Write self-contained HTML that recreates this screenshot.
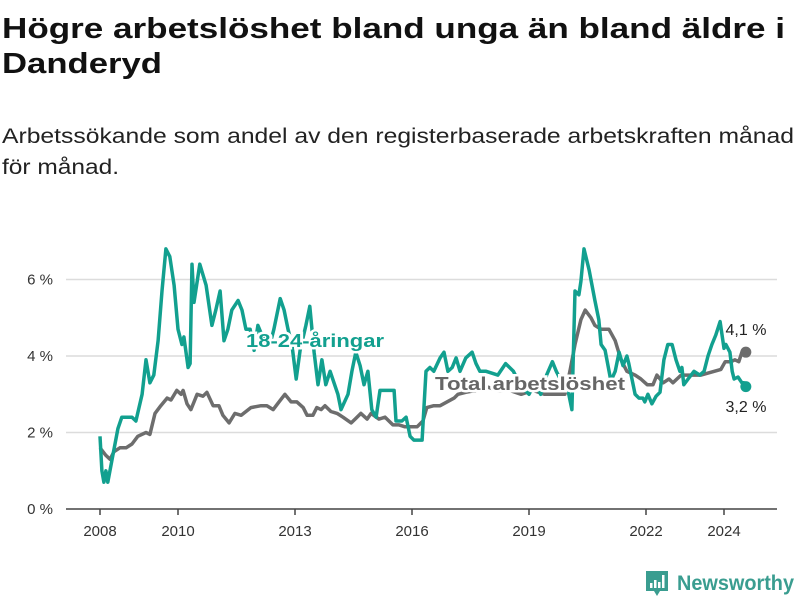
<!DOCTYPE html>
<html><head><meta charset="utf-8"><style>
body{margin:0;background:#fff;width:800px;height:600px;overflow:hidden}
svg{display:block;font-family:"Liberation Sans",sans-serif}
</style></head><body>
<svg id="chart" width="800" height="600">
<text x="2" y="38" font-size="29" font-weight="bold" fill="#111" textLength="783" lengthAdjust="spacingAndGlyphs">Högre arbetslöshet bland unga än bland äldre i</text>
<text x="2" y="73" font-size="29" font-weight="bold" fill="#111" textLength="160" lengthAdjust="spacingAndGlyphs">Danderyd</text>
<text x="2" y="143" font-size="21" fill="#222" textLength="792" lengthAdjust="spacingAndGlyphs">Arbetssökande som andel av den registerbaserade arbetskraften månad</text>
<text x="2" y="174" font-size="21" fill="#222" textLength="117" lengthAdjust="spacingAndGlyphs">för månad.</text>
<g id="grid"></g>
<g id="axes"></g>
<g id="series"></g>
<g id="labels"></g>
<g>
<path d="M646 571 h22 v20 h-8 l-3 5 l-3 -5 h-8 z" fill="#3a9d90"/>
<rect x="650" y="583" width="2.5" height="5" fill="#fff"/><rect x="654" y="580" width="2.5" height="8" fill="#fff"/><rect x="658" y="582" width="2.5" height="6" fill="#fff"/><rect x="662" y="575" width="2.5" height="13" fill="#fff"/>
<text x="677" y="590" font-size="21" font-weight="bold" fill="#3a9d90" textLength="117" lengthAdjust="spacingAndGlyphs">Newsworthy</text>
</g>
</svg>
<script>
const yTicks=[0,2,4,6];
const xTicks=[2008,2010,2013,2016,2019,2022,2024];
const youthYears=[
2008.0,2008.05,2008.1,2008.15,2008.2,2008.31,2008.46,2008.56,2008.82,2008.92,
2009.08,2009.18,2009.28,2009.38,2009.49,2009.59,2009.69,2009.79,2009.9,2010.0,
2010.1,2010.15,2010.26,2010.31,2010.36,2010.41,2010.56,2010.72,2010.87,2010.97,
2011.08,2011.18,2011.28,2011.38,2011.54,2011.64,2011.74,2011.85,2011.95,2012.05,
2012.21,2012.36,2012.46,2012.62,2012.72,2012.82,2012.92,2013.03,2013.13,2013.28,
2013.38,2013.49,2013.59,2013.69,2013.79,2013.9,2014.0,2014.1,2014.18,2014.36,
2014.46,2014.56,2014.67,2014.77,2014.87,2014.97,2015.08,2015.18,2015.54,2015.59,
2015.74,2015.85,2015.95,2016.05,2016.26,2016.36,2016.46,2016.56,2016.72,2016.82,
2016.92,2017.03,2017.13,2017.23,2017.38,2017.54,2017.64,2017.74,2017.9,2018.2,
2018.4,2018.6,2018.8,2019.0,2019.15,2019.3,2019.45,2019.6,2019.7,2019.85,
2020.0,2020.1,2020.18,2020.28,2020.33,2020.41,2020.54,2020.69,2020.79,2020.85,
2020.95,2021.1,2021.21,2021.31,2021.41,2021.51,2021.56,2021.72,2021.82,2021.92,
2021.97,2022.05,2022.15,2022.26,2022.36,2022.46,2022.56,2022.67,2022.77,2022.87,
2022.92,2022.97,2023.08,2023.23,2023.38,2023.49,2023.59,2023.69,2023.79,2023.9,
2024.0,2024.05,2024.15,2024.21,2024.26,2024.36,2024.46,2024.51,2024.56];
const youthValues=[
1.9,1.0,0.7,1.0,0.7,1.3,2.1,2.4,2.4,2.3,
3.0,3.9,3.3,3.5,4.4,5.7,6.8,6.6,5.85,4.7,
4.3,4.5,3.7,3.8,6.4,5.4,6.4,5.85,4.8,5.2,
5.7,4.4,4.7,5.2,5.45,5.2,4.7,4.7,4.15,4.8,
4.4,4.3,4.7,5.5,5.2,4.7,4.3,3.4,4.15,4.8,
5.3,4.1,3.25,3.9,3.25,3.6,3.3,3.0,2.6,3.0,
3.6,4.1,3.75,3.25,3.6,2.6,2.4,3.1,3.1,2.3,
2.3,2.4,1.9,1.8,1.8,3.6,3.7,3.6,3.95,4.1,
3.6,3.7,3.95,3.6,3.95,4.1,3.8,3.6,3.6,3.5,
3.8,3.6,3.2,3.0,3.3,3.0,3.5,3.85,3.6,3.3,
3.1,2.6,5.7,5.6,5.95,6.8,6.25,5.45,4.95,4.3,
4.15,3.35,3.6,4.1,3.75,4.0,3.8,3.0,2.9,2.9,
2.8,3.0,2.75,2.95,3.05,3.9,4.3,4.3,3.9,3.6,
3.7,3.25,3.4,3.6,3.5,3.6,4.0,4.3,4.55,4.9,
4.2,4.3,4.1,3.6,3.4,3.45,3.3,3.3,3.2];
const totalYears=[2008.0,2008.15,2008.26,2008.36,2008.51,2008.67,2008.82,2008.97,2009.18,2009.28,2009.41,2009.56,2009.72,2009.82,2009.97,2010.08,2010.13,2010.23,2010.33,2010.49,2010.64,2010.74,2010.9,2011.05,2011.15,2011.31,2011.46,2011.62,2011.87,2012.13,2012.28,2012.44,2012.59,2012.74,2012.9,2013.05,2013.21,2013.31,2013.46,2013.56,2013.67,2013.77,2013.92,2014.08,2014.23,2014.44,2014.54,2014.69,2014.85,2014.95,2015.15,2015.31,2015.51,2015.67,2015.82,2015.97,2016.13,2016.28,2016.38,2016.56,2016.72,2017.08,2017.18,2017.38,2017.64,2017.9,2018.2,2018.5,2018.8,2019.1,2019.4,2019.67,2019.92,2020.05,2020.18,2020.33,2020.44,2020.59,2020.69,2020.85,2021.05,2021.21,2021.36,2021.51,2021.72,2021.87,2022.03,2022.18,2022.28,2022.44,2022.59,2022.69,2022.9,2023.05,2023.41,2023.92,2024.03,2024.18,2024.28,2024.38,2024.46,2024.56];
const totalValues=[1.6,1.4,1.3,1.5,1.6,1.6,1.7,1.9,2.0,1.95,2.5,2.7,2.9,2.85,3.1,3.0,3.1,2.75,2.6,3.0,2.95,3.05,2.7,2.7,2.45,2.25,2.5,2.45,2.65,2.7,2.7,2.6,2.8,3.0,2.8,2.8,2.65,2.45,2.45,2.65,2.6,2.7,2.55,2.5,2.4,2.25,2.35,2.5,2.35,2.5,2.35,2.4,2.2,2.2,2.15,2.15,2.15,2.3,2.65,2.7,2.7,2.9,3.0,3.05,3.1,3.2,3.1,3.1,3.0,3.1,3.0,3.0,3.0,3.6,4.3,4.95,5.2,5.0,4.8,4.7,4.7,4.4,3.9,3.6,3.5,3.4,3.25,3.25,3.5,3.3,3.4,3.3,3.5,3.5,3.5,3.65,3.85,3.85,3.9,3.85,4.1,4.1];
const NS='http://www.w3.org/2000/svg';
const x=yr=>100+(yr-2008)*39;
const y=v=>509-v*38.25;
function mk(tag,attrs,parent){const e=document.createElementNS(NS,tag);for(const k in attrs)e.setAttribute(k,attrs[k]);parent.appendChild(e);return e;}
const grid=document.getElementById('grid'),axes=document.getElementById('axes'),series=document.getElementById('series'),labels=document.getElementById('labels');
yTicks.forEach(t=>{
  if(t>0){const l=mk('line',{x1:66,x2:777,y1:y(t),y2:y(t),stroke:'#dcdcdc','stroke-width':1.5},grid);
  
  }
  const tx=mk('text',{x:53,y:y(t)+5,'font-size':15,'text-anchor':'end',fill:'#333'},axes);
  tx.textContent=t+' %';
  
  
});
const base=mk('line',{x1:66,x2:777,y1:y(0),y2:y(0),stroke:'#444','stroke-width':1.5},axes);


xTicks.forEach(t=>{
  mk('line',{x1:x(t),x2:x(t),y1:y(0),y2:y(0)+6,stroke:'#444','stroke-width':1.5},axes);
  const tx=mk('text',{x:x(t),y:536,'font-size':15,'text-anchor':'middle',fill:'#333'},axes);
  tx.textContent=t;
  
  
});
function line(xs,vs,color,name){
  const n=Math.min(xs.length,vs.length);
  let d='';
  for(let i=0;i<n;i++)d+=(i?'L':'M')+x(xs[i]).toFixed(1)+' '+y(vs[i]).toFixed(1)+' ';
  const p=mk('path',{d:d,fill:'none',stroke:color,'stroke-width':3.5,'stroke-linejoin':'round'},series);
  
  
  const c=mk('circle',{cx:x(xs[n-1]),cy:y(vs[n-1]),r:5.5,fill:color},series);
  
  
}
line(totalYears,totalValues,'#6d6d6d','total-line');
line(youthYears,youthValues,'#12a08f','youth-line');
function lab(tx,px,py,color,bold,name,anchor,len){
  const a={x:px,y:py,'font-size':bold?18:16,'font-weight':bold?'bold':'normal',fill:color,'text-anchor':anchor||'start',stroke:'#fff','stroke-width':bold?5:0,'paint-order':'stroke'};
  if(len){a.textLength=len;a.lengthAdjust='spacingAndGlyphs';}
  const t=mk('text',a,labels);
  t.textContent=tx;
  
  
}
lab('18-24-åringar',246,347,'#12a08f',true,'youth-series-label','start',138);
lab('Total arbetslöshet',435,390,'#666',true,'total-series-label','start',190);
const lt=totalValues[totalValues.length-1].toString().replace('.',',')+' %';
const ly=youthValues[youthValues.length-1].toString().replace('.',',')+' %';
lab(lt,746,335,'#222',false,'total-end-value','middle');
lab(ly,746,412,'#222',false,'youth-end-value','middle');
</script>
</body></html>
